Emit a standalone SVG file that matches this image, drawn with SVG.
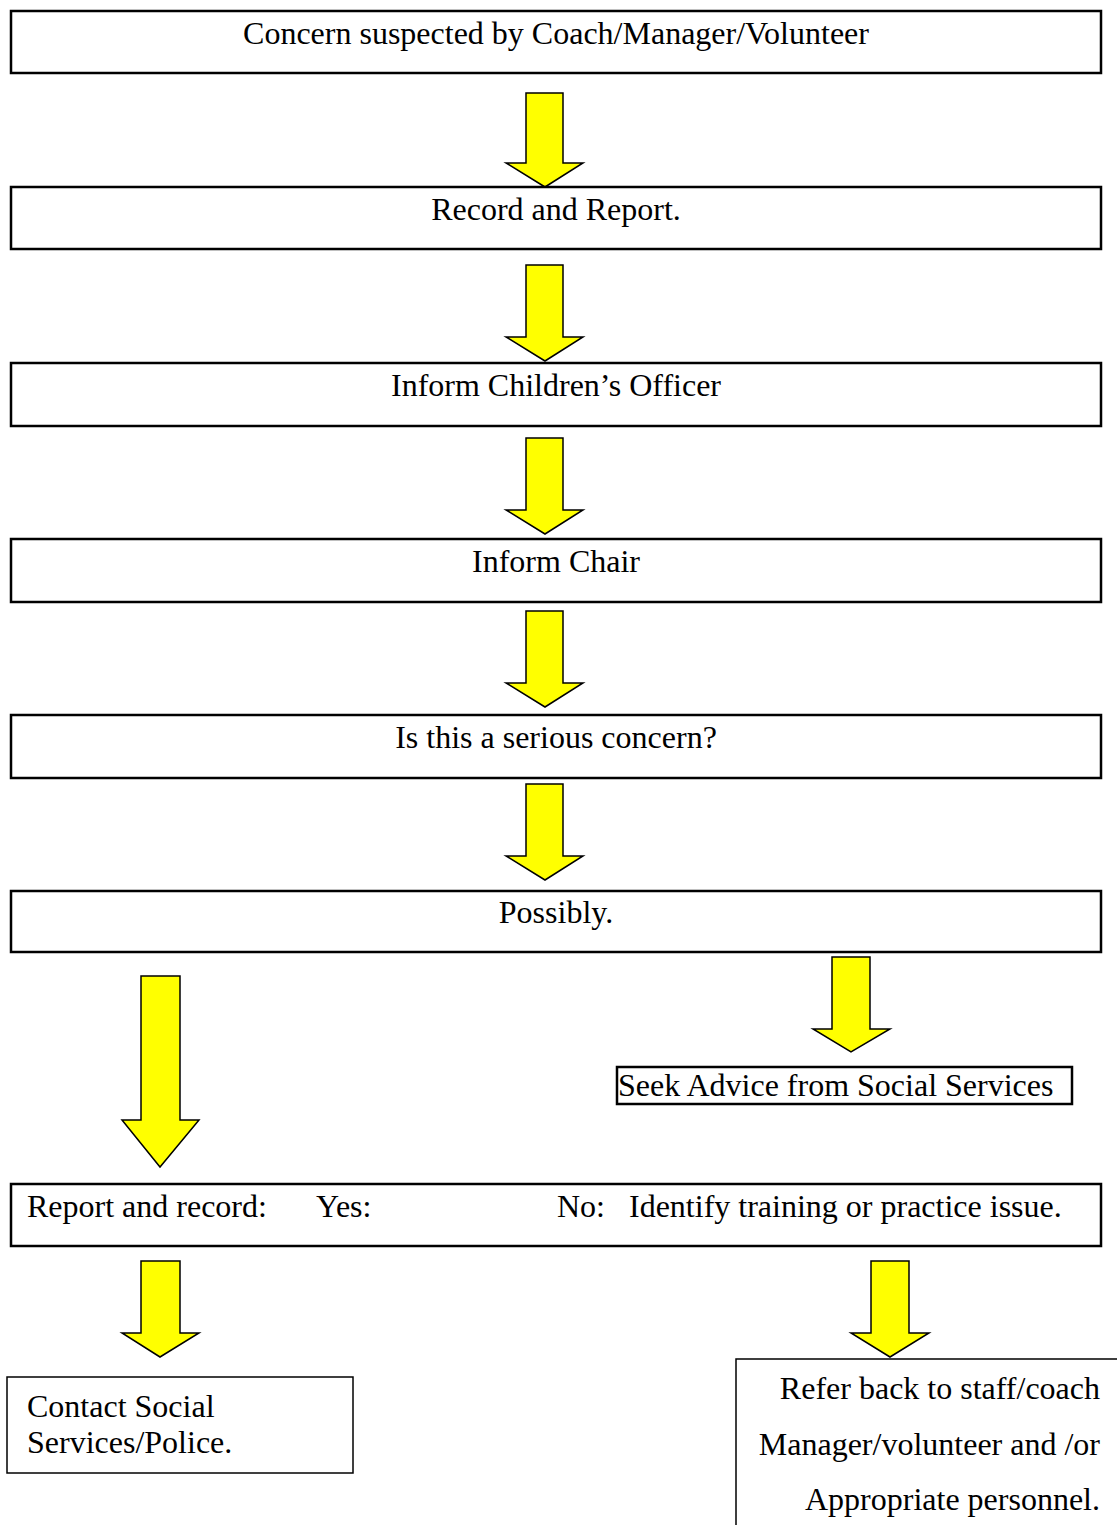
<svg xmlns="http://www.w3.org/2000/svg" width="1117" height="1525" viewBox="0 0 1117 1525">
<style>
.box{fill:#fff;stroke:#000;stroke-width:2.5}
.thin{fill:#fff;stroke:#000;stroke-width:1.5}
.arr{fill:#ffff00;stroke:#000;stroke-width:1.5;stroke-linejoin:miter}
text{font-family:"Liberation Serif","Times New Roman",serif;font-size:32px;fill:#000}
.c{text-anchor:middle}
.r{text-anchor:end}
</style>
<rect width="1117" height="1525" fill="#fff"/>
<g id="connectors">
<polygon class="arr" points="526,93 563,93 563,163 583,163 545,187 506,163 526,163"/>
<polygon class="arr" points="526,265 563,265 563,337 583,337 545,361 506,337 526,337"/>
<polygon class="arr" points="526,438 563,438 563,510 583,510 545,534 506,510 526,510"/>
<polygon class="arr" points="526,611 563,611 563,683 583,683 545,707 506,683 526,683"/>
<polygon class="arr" points="526,784 563,784 563,856 583,856 545,880 506,856 526,856"/>
<polygon class="arr" points="141,976 180,976 180,1120 199,1120 160,1167 122,1120 141,1120"/>
<polygon class="arr" points="832,957 870,957 870,1029 890,1029 851,1052 813,1029 832,1029"/>
<polygon class="arr" points="141,1261 180,1261 180,1333 199,1333 160,1357 122,1333 141,1333"/>
<polygon class="arr" points="871,1261 909,1261 909,1333 929,1333 890,1357 851,1333 871,1333"/>
</g>
<g id="n1"><rect class="box" x="11" y="11" width="1090" height="62"/><text class="c" x="556" y="44">Concern suspected by Coach/Manager/Volunteer</text></g>
<g id="n2"><rect class="box" x="11" y="187" width="1090" height="62"/><text class="c" x="556" y="220">Record and Report.</text></g>
<g id="n3"><rect class="box" x="11" y="363" width="1090" height="63"/><text class="c" x="556" y="396">Inform Children’s Officer</text></g>
<g id="n4"><rect class="box" x="11" y="539" width="1090" height="63"/><text class="c" x="556" y="572">Inform Chair</text></g>
<g id="n5"><rect class="box" x="11" y="715" width="1090" height="63"/><text class="c" x="556" y="748">Is this a serious concern?</text></g>
<g id="n6"><rect class="box" x="11" y="891" width="1090" height="61"/><text class="c" x="556" y="923">Possibly.</text></g>
<g id="n7"><rect class="box" x="617" y="1067" width="455" height="37"/><text x="618" y="1096">Seek Advice from Social Services</text></g>
<g id="n8"><rect class="box" x="11" y="1184" width="1090" height="62"/><text x="27" y="1217">Report and record:</text><text x="316" y="1217">Yes:</text><text x="557" y="1217">No:</text><text x="629" y="1217">Identify training or practice issue.</text></g>
<g id="n9"><rect class="thin" x="7" y="1377" width="346" height="96"/><text x="27" y="1417">Contact Social</text><text x="27" y="1453">Services/Police.</text></g>
<g id="n10"><rect class="thin" x="736" y="1359" width="400" height="200"/><text class="r" x="1100" y="1399">Refer back to staff/coach</text><text class="r" x="1100" y="1455">Manager/volunteer and /or</text><text class="r" x="1100" y="1510">Appropriate personnel.</text></g>
</svg>
